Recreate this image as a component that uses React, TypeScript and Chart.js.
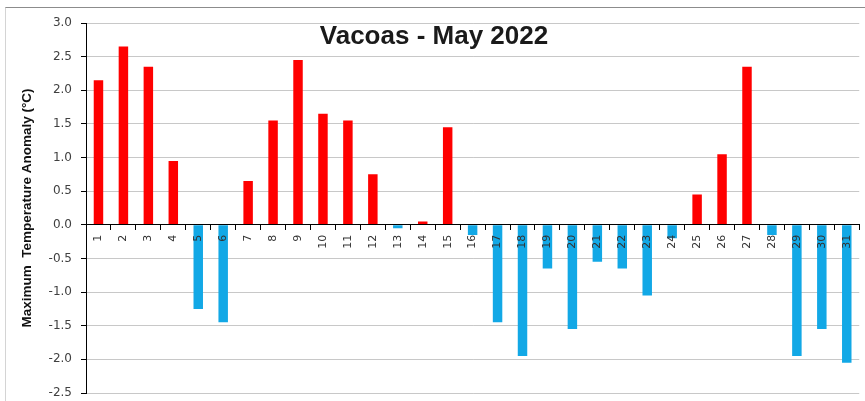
import React, { useEffect, useRef } from "react";
import { Chart, registerables } from "chart.js";

Chart.register(...registerables);

const days = [
  "1", "2", "3", "4", "5", "6", "7", "8", "9", "10",
  "11", "12", "13", "14", "15", "16", "17", "18", "19", "20",
  "21", "22", "23", "24", "25", "26", "27", "28", "29", "30", "31",
];

const anomalies = [
  2.15, 2.65, 2.35, 0.95, -1.25, -1.45, 0.65, 1.55, 2.45, 1.65,
  1.55, 0.75, -0.05, 0.05, 1.45, -0.15, -1.45, -1.95, -0.65, -1.55,
  -0.55, -0.65, -1.05, -0.2, 0.45, 1.05, 2.35, -0.15, -1.95, -1.55, -2.05,
];

const yMin = -2.5;
const yMax = 3.0;
const yStep = 0.5;

const chartTitle = "Vacoas - May 2022";
const yAxisTitle = "Maximum  Temperature Anomaly (°C)";

const POS_COLOR = "#FF0000";
const NEG_COLOR = "#12A8E6";

export default function App() {
  const canvasRef = useRef<HTMLCanvasElement | null>(null);

  useEffect(() => {
    const canvas = canvasRef.current;
    if (!canvas) return;
    const chart = new Chart(canvas, {
      type: "bar",
      data: {
        labels: days,
        datasets: [
          {
            data: anomalies,
            backgroundColor: anomalies.map((v) => (v >= 0 ? POS_COLOR : NEG_COLOR)),
            borderWidth: 0,
            barPercentage: 0.38,
            categoryPercentage: 1,
          },
        ],
      },
      options: {
        animation: false,
        responsive: false,
        devicePixelRatio: 1,
        layout: { padding: { top: 23, bottom: 8, left: 0, right: 2 } },
        plugins: {
          legend: { display: false },
          tooltip: { enabled: false },
          title: { display: false },
        },
        scales: {
          x: {
            position: { y: 0 } as any,
            offset: true,
            grid: {
              offset: true,
              drawOnChartArea: false,
              drawTicks: true,
              tickLength: 5,
              tickColor: "#000",
              lineWidth: 1,
              z: 1,
            },
            border: { color: "#000", width: 1, z: 1 },
            ticks: {
              minRotation: 90,
              maxRotation: 90,
              autoSkip: false,
              padding: 5,
              font: { family: "DejaVu Sans", size: 11 },
              color: "#333",
              z: 1,
            },
          },
          y: {
            min: yMin,
            max: yMax,
            ticks: {
              stepSize: yStep,
              callback: (v: any) => Number(v).toFixed(1),
              padding: 9,
              font: { family: "DejaVu Sans", size: 12 },
              color: "#404040",
            },
            grid: {
              color: "#C8C8C8",
              tickColor: "#000",
              tickLength: 5,
              lineWidth: 1,
            },
            border: { color: "#000", width: 1 },
            title: {
              display: true,
              text: yAxisTitle,
              font: { family: "Liberation Sans", weight: "bold", size: 13.5 },
              color: "#111",
              padding: { top: 19, bottom: 0 },
            },
            afterFit: (scale: any) => {
              scale.width = 86;
              scale.paddingTop = 0;
              scale.paddingBottom = 0;
            },
          },
        },
      },
    });
    return () => chart.destroy();
  }, []);

  return (
    <div
      style={{
        position: "absolute",
        left: 0,
        top: 0,
        width: 865,
        height: 401,
        background: "#fff",
        overflow: "hidden",
      }}
    >
      <div
        style={{
          position: "absolute",
          left: 5,
          top: 7,
          right: 0,
          bottom: 0,
          borderTop: "1px solid #8c8c8c",
          borderLeft: "1px solid #d4d4d4",
        }}
      />
      <canvas
        ref={canvasRef}
        width={865}
        height={401}
        style={{ position: "absolute", left: 0, top: 0, display: "block" }}
      />
      <div
        style={{
          position: "absolute",
          left: 0,
          top: 20,
          width: 868,
          textAlign: "center",
          fontFamily: "'Liberation Sans', Arial, sans-serif",
          fontWeight: "bold",
          fontSize: 26,
          lineHeight: "30px",
          color: "#1a1a1a",
        }}
      >
        {chartTitle}
      </div>
    </div>
  );
}
